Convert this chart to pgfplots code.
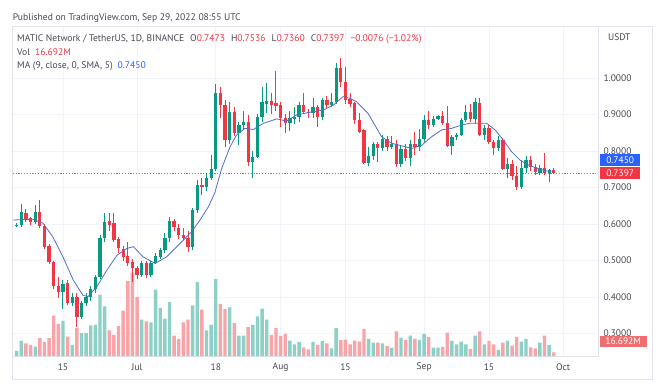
\documentclass[border=0pt]{standalone}
\usepackage{pgfplots}
\pgfplotsset{compat=1.18}
\usepackage{pgfplotstable}
\usepackage{fontspec}
\setmainfont{PT Sans}
\definecolor{cup}{RGB}{8,153,129}
\definecolor{cdown}{RGB}{242,54,69}
\definecolor{volup}{RGB}{140,208,198}
\definecolor{voldown}{RGB}{247,165,168}
\definecolor{volbox}{RGB}{240,110,112}
\definecolor{gridc}{RGB}{240,243,250}
\definecolor{framec}{RGB}{224,227,235}
\definecolor{txt}{RGB}{70,72,80}
\definecolor{mablue}{RGB}{41,98,255}
\definecolor{maline}{RGB}{80,110,210}
\definecolor{lastline}{RGB}{240,90,100}

\pgfplotstableread{
d o h l c v
5 0.595 0.602 0.593 0.598 22.5
6 0.597 0.655 0.592 0.634 67.5
9 0.606 0.652 0.600 0.632 42
15 0.415 0.447 0.367 0.437 157.5
17 0.383 0.410 0.375 0.400 49.5
19 0.346 0.390 0.340 0.383 102
20 0.383 0.410 0.375 0.400 102
21 0.400 0.430 0.390 0.422 136.5
22 0.421 0.460 0.410 0.456 139.5
23 0.456 0.570 0.450 0.562 274.5
24 0.561 0.631 0.550 0.606 222
32 0.460 0.500 0.455 0.494 162
34 0.460 0.500 0.455 0.494 150
35 0.494 0.520 0.490 0.512 297
36 0.511 0.535 0.505 0.530 214.5
37 0.529 0.575 0.520 0.561 166.5
38 0.561 0.620 0.550 0.607 241.5
43 0.538 0.645 0.530 0.638 226.5
44 0.638 0.720 0.630 0.706 330
46 0.702 0.740 0.690 0.725 114
47 0.725 0.790 0.720 0.752 139.5
48 0.752 0.983 0.745 0.958 343.5
51 0.830 0.935 0.820 0.908 217.5
53 0.849 0.880 0.816 0.871 91.5
54 0.871 0.910 0.860 0.880 91.5
56 0.771 0.800 0.725 0.784 139.5
57 0.784 0.900 0.780 0.894 177
58 0.894 0.976 0.880 0.935 211.5
59 0.928 0.985 0.905 0.936 162
64 0.876 0.910 0.855 0.890 69
65 0.889 0.920 0.875 0.894 52.5
66 0.894 0.935 0.880 0.926 63
69 0.903 0.945 0.890 0.921 63
71 0.894 0.945 0.885 0.940 67.5
73 0.926 0.958 0.920 0.935 34.5
74 0.935 1.040 0.930 1.027 124.5
81 0.768 0.810 0.760 0.786 76.5
82 0.786 0.825 0.775 0.818 60
84 0.809 0.845 0.800 0.832 57
86 0.812 0.840 0.805 0.818 37.5
88 0.764 0.815 0.757 0.805 82.5
90 0.780 0.830 0.760 0.818 91.5
92 0.811 0.860 0.800 0.832 72
93 0.832 0.900 0.825 0.885 99
95 0.871 0.895 0.865 0.889 37.5
96 0.889 0.900 0.885 0.896 37.5
99 0.813 0.845 0.789 0.838 67.5
100 0.838 0.850 0.830 0.845 52.5
101 0.845 0.890 0.840 0.886 64.5
102 0.886 0.925 0.880 0.907 52.5
104 0.889 0.945 0.875 0.935 91.5
106 0.845 0.870 0.830 0.862 52.5
109 0.808 0.840 0.800 0.830 27
111 0.750 0.780 0.726 0.764 67.5
114 0.702 0.775 0.695 0.753 64.5
115 0.753 0.785 0.740 0.775 76.5
118 0.740 0.762 0.735 0.753 60
120 0.740 0.752 0.716 0.7473 49.5
}\tabup

\pgfplotstableread{
d o h l c v
7 0.631 0.640 0.606 0.615 57
8 0.617 0.620 0.597 0.606 49.5
10 0.632 0.665 0.590 0.595 79.5
11 0.595 0.600 0.532 0.536 61.5
12 0.540 0.545 0.490 0.497 79.5
13 0.497 0.500 0.422 0.429 180
14 0.430 0.456 0.397 0.415 144
16 0.439 0.447 0.378 0.383 87
18 0.401 0.410 0.318 0.346 124.5
25 0.607 0.631 0.580 0.597 114
26 0.603 0.630 0.550 0.556 94.5
27 0.558 0.565 0.520 0.533 135
28 0.531 0.540 0.500 0.510 202.5
29 0.512 0.550 0.485 0.494 334.5
30 0.497 0.505 0.440 0.479 372
31 0.479 0.485 0.449 0.460 262.5
33 0.494 0.500 0.452 0.460 154.5
39 0.607 0.615 0.580 0.593 91.5
40 0.589 0.600 0.560 0.570 76.5
41 0.570 0.590 0.555 0.561 150
42 0.561 0.580 0.524 0.538 162
45 0.708 0.725 0.680 0.702 207
49 0.958 0.976 0.890 0.926 232.5
50 0.926 0.940 0.812 0.830 210
52 0.908 0.920 0.840 0.849 147
55 0.880 0.900 0.760 0.771 129
60 0.936 0.960 0.900 0.926 94.5
61 0.932 1.020 0.910 0.924 124.5
62 0.926 0.935 0.867 0.890 90
63 0.890 0.900 0.848 0.876 99
67 0.926 0.960 0.900 0.908 39
68 0.908 0.915 0.890 0.903 30
70 0.921 0.925 0.867 0.894 49.5
72 0.940 0.950 0.915 0.926 57
75 1.027 1.055 0.975 0.990 70.5
76 0.990 1.030 0.930 0.940 73.5
77 0.942 0.960 0.920 0.930 52.5
78 0.931 0.935 0.875 0.885 69
79 0.885 0.905 0.850 0.853 64.5
80 0.857 0.860 0.765 0.768 121.5
83 0.818 0.825 0.771 0.809 60
85 0.832 0.840 0.800 0.812 45
87 0.818 0.830 0.757 0.764 109.5
89 0.805 0.820 0.773 0.780 72
91 0.818 0.852 0.790 0.811 76.5
94 0.885 0.910 0.860 0.871 84
97 0.896 0.910 0.870 0.877 40.5
98 0.877 0.923 0.810 0.813 105
103 0.907 0.930 0.880 0.889 31.5
105 0.932 0.945 0.840 0.845 109.5
107 0.862 0.870 0.818 0.825 67.5
108 0.825 0.830 0.790 0.808 52.5
110 0.830 0.835 0.748 0.752 60
112 0.764 0.775 0.720 0.732 46.5
113 0.732 0.760 0.693 0.702 84
116 0.776 0.785 0.745 0.757 39
117 0.755 0.765 0.735 0.742 34.5
119 0.753 0.794 0.735 0.740 91.5
121 0.7473 0.7536 0.7360 0.7397 16.692
}\tabdown

\pgfplotsset{
  chartgeom/.style={at={(12.7pt,-356pt)}, anchor=south west, scale only axis,
    width=585.3pt, height=329.3pt, xmin=4.14, xmax=130.55},
  candle/.style 2 args={draw=none, mark=none, forget plot, error bars/.cd, y dir=both, y explicit, error mark=none,
    error bar style={draw=#1, line width=#2, solid}},
}

\begin{document}
\begin{tikzpicture}[x=1pt,y=1pt]
\useasboundingbox (0,0) rectangle (660,-384);
\fill[white] (0,0) rectangle (660,-384);

% grid / ticks axis
\begin{axis}[chartgeom,
  ymin=0.2384, ymax=1.1405,
  axis line style={framec, line width=0.8pt},
  xtick={15,31,48,62,76,93,107,123},
  xticklabels={15,Jul,18,Aug,15,Sep,15,Oct},
  ytick={0.3,0.4,0.5,0.6,0.7,0.8,0.9,1.0},
  yticklabels={0.3000,0.4000,0.5000,0.6000,0.7000,0.8000,0.9000,1.0000},
  yticklabel pos=right,
  major tick length=0pt,
  grid=major, major grid style={gridc, line width=0.8pt},
  tick label style={font=\fontsize{9.5}{11}\selectfont, text=txt},
  xticklabel style={anchor=center, yshift=-11pt},
  yticklabel style={anchor=west, xshift=2pt},
]
\end{axis}

% volume axis
\begin{axis}[chartgeom, ymin=0, ymax=1471, hide axis]
\addplot[ybar, bar width=3.4pt, bar shift=0pt, fill=volup, draw=none] table[x=d,y=v]{\tabup};
\addplot[ybar, bar width=3.4pt, bar shift=0pt, fill=voldown, draw=none] table[x=d,y=v]{\tabdown};
\end{axis}

% price axis
\begin{axis}[chartgeom, ymin=0.2384, ymax=1.1405, hide axis]
\draw[lastline, line width=0.9pt, dash pattern=on 1.3pt off 1.5pt] (axis cs:4.14,0.7397) -- (axis cs:130.55,0.7397);
% wicks
\addplot[candle={cup}{1pt}]
  table[x=d, y expr={(\thisrow{h}+\thisrow{l})/2}, y error expr={(\thisrow{h}-\thisrow{l})/2}]{\tabup};
\addplot[candle={cdown}{1pt}]
  table[x=d, y expr={(\thisrow{h}+\thisrow{l})/2}, y error expr={(\thisrow{h}-\thisrow{l})/2}]{\tabdown};
% bodies
\addplot[candle={cup}{3.3pt}]
  table[x=d, y expr={(\thisrow{o}+\thisrow{c})/2}, y error expr={max(abs(\thisrow{o}-\thisrow{c})/2,0.0012)}]{\tabup};
\addplot[candle={cdown}{3.3pt}]
  table[x=d, y expr={(\thisrow{o}+\thisrow{c})/2}, y error expr={max(abs(\thisrow{o}-\thisrow{c})/2,0.0012)}]{\tabdown};
% moving average
\addplot[maline, line width=0.8pt, mark=none] coordinates {
(4.27,0.611) (8.5,0.613) (10.7,0.602) (12.8,0.565) (15,0.510) (17.2,0.447) (19.3,0.405)
(20.4,0.401) (22.3,0.428) (24.5,0.474) (26.7,0.515) (28.8,0.533) (30.2,0.538) (32.3,0.51)
(34.9,0.492) (37.4,0.510) (40.3,0.547) (42.8,0.579) (44.6,0.611) (46.4,0.647) (47.8,0.686)
(49.3,0.753) (51.1,0.812) (52.5,0.844) (54.3,0.862) (56.1,0.859) (58.3,0.876) (61.2,0.888)
(63.3,0.882) (65.5,0.899) (68.3,0.906) (71.2,0.912) (73.4,0.926) (75.5,0.949) (77,0.944)
(78.4,0.935) (80.9,0.903) (83.8,0.839) (86,0.821) (88.2,0.814) (90.3,0.807) (92.5,0.816)
(94.6,0.839) (96.8,0.858) (98.9,0.862) (101.1,0.871) (102.9,0.876) (104.7,0.876) (106.5,0.876)
(108.3,0.858) (110.1,0.830) (111.9,0.798) (113.7,0.775) (115.5,0.762) (117.3,0.753)
(119.5,0.745) (121,0.745)};
\end{axis}

% outer frame
\draw[framec, line width=0.8pt] (12.7,-26.7) rectangle (652,-379);

% header texts
\begin{scope}[every node/.style={inner sep=0pt, anchor=base west, text=txt, font=\fontsize{9.6}{12}\selectfont}]
\node at (12.7,-20) {Published on TradingView.com, Sep 29, 2022 08:55 UTC};
\node at (17,-41) {MATIC Network / TetherUS, 1D, BINANCE\hspace{6pt}O\textcolor{cdown}{0.7473}\hspace{6pt}H\textcolor{cdown}{0.7536}\hspace{6pt}L\textcolor{cdown}{0.7360}\hspace{6pt}C\textcolor{cdown}{0.7397}\hspace{6pt}\textcolor{cdown}{−0.0076 (−1.02\%)}};
\node at (17,-55) {Vol\hspace{5pt}\textcolor{cdown}{16.692M}};
\node at (17,-68.5) {MA (9, close, 0, SMA, 5)\hspace{5pt}\textcolor{mablue}{0.7450}};
\node[font=\fontsize{9.5}{11}\selectfont] at (608,-40) {USDT};
\end{scope}

% price boxes
\begin{scope}[every node/.style={inner sep=0pt, anchor=west, text=white, font=\fontsize{9.5}{11}\selectfont, minimum height=11.7pt}]
\node[fill=mablue, minimum width=40pt] at (600,-160.2) {0.7450};
\node[fill=cdown, minimum width=40pt] at (600,-173) {0.7397};
\node[fill=volbox, minimum width=47pt, minimum height=10.5pt] at (599.5,-341.5) {16.692M};
\end{scope}
\end{tikzpicture}
\end{document}
